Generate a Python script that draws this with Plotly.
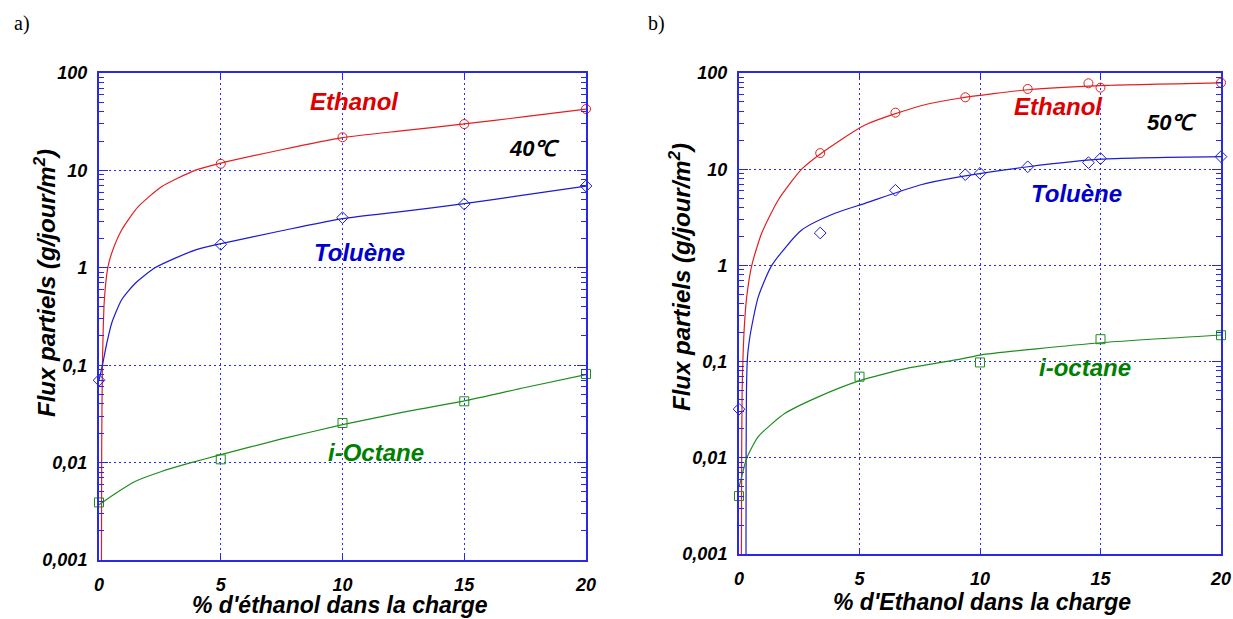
import plotly.graph_objects as go

# ---------------- Panel a) 40 °C ----------------
a_eth_x = [5, 10, 15, 20]
a_eth_y = [11.7, 21.9, 29.9, 42.7]
a_tol_x = [0, 5, 10, 15, 20]
a_tol_y = [0.07, 1.74, 3.27, 4.52, 6.92]
a_oct_x = [0, 5, 10, 15, 20]
a_oct_y = [0.0039, 0.0108, 0.0255, 0.0426, 0.0813]

# fitted curves
a_eth_fit_x = [0.10, 0.11, 0.14, 0.22, 0.36, 0.52, 0.93, 1.61, 2.57, 3.94, 4.97, 7.5, 10, 12.5, 15, 17.5, 20]
a_eth_fit_y = [0.001, 0.0135, 0.1, 0.47, 1.0, 1.41, 2.44, 4.24, 6.8, 10.0, 11.8, 16.3, 21.7, 25.6, 30.0, 35.6, 42.6]
a_tol_fit_x = [0, 0.14, 0.32, 0.52, 0.93, 1.48, 2.3, 3.94, 4.97, 7.5, 10, 12.5, 15, 17.5, 20]
a_tol_fit_y = [0.07, 0.1, 0.168, 0.27, 0.47, 0.69, 1.0, 1.52, 1.76, 2.4, 3.2, 3.8, 4.55, 5.6, 6.9]
a_oct_fit_x = [0, 0.66, 1.48, 2.57, 3.67, 4.97, 7.5, 10, 12.5, 15, 17.5, 20]
a_oct_fit_y = [0.0037, 0.0048, 0.0064, 0.0081, 0.0098, 0.012, 0.0175, 0.0245, 0.033, 0.043, 0.059, 0.08]

# ---------------- Panel b) 50 °C ----------------
b_eth_x = [3.37, 6.49, 9.39, 11.98, 14.5, 15, 20]
b_eth_y = [14.7, 38.7, 55.9, 68.2, 78.2, 70.4, 79.3]
b_tol_x = [0, 3.37, 6.49, 9.39, 10, 11.98, 14.5, 15, 20]
b_tol_y = [0.032, 2.17, 6.04, 8.77, 9.07, 10.6, 11.7, 12.9, 13.5]
b_oct_x = [0, 5, 10, 15, 20]
b_oct_y = [0.0040, 0.0697, 0.098, 0.171, 0.188]

b_eth_fit_x = [0.10, 0.11, 0.13, 0.17, 0.23, 0.32, 0.53, 0.94, 1.63, 2.6, 3.39, 5.23, 7.51, 9.2, 12, 15, 20]
b_eth_fit_y = [0.001, 0.01, 0.05, 0.12, 0.25, 0.47, 1.0, 2.16, 4.79, 10.0, 14.5, 28.8, 45.4, 55, 67, 74, 79]
b_tol_fit_x = [0.29, 0.295, 0.31, 0.35, 0.42, 0.50, 0.80, 1.36, 2.6, 3.98, 5.23, 7.51, 9.2, 12, 15, 20]
b_tol_fit_y = [0.001, 0.01, 0.05, 0.11, 0.16, 0.213, 0.47, 1.0, 2.33, 3.48, 4.42, 6.85, 8.36, 10.6, 12.7, 13.5]
b_oct_fit_x = [0, 0.04, 0.32, 0.80, 1.91, 3.29, 4.98, 6.96, 9.17, 10, 15, 20]
b_oct_fit_y = [0.005, 0.0054, 0.0099, 0.0166, 0.029, 0.043, 0.063, 0.085, 0.106, 0.117, 0.157, 0.189]

x_ticks = [0, 5, 10, 15, 20]
y_ticks = [0.001, 0.01, 0.1, 1, 10, 100]
y_ticktext = ["0,001", "0,01", "0,1", "1", "10", "100"]

RED_L, BLUE_L, GREEN_L = "#e41e1e", "#1c1cd2", "#1e8c1e"
RED_T, BLUE_T, GREEN_T = "#dd0000", "#0000cc", "#008000"
AXC = "#2a2ae6"
GRIDC = "#2a2aff"

W, H = 1233, 619
FONT = "Liberation Sans, Arial, Helvetica, sans-serif"

fig = go.Figure()


def add_panel(xa, ya, fits, pts):
    for fx, fy, col in fits:
        fig.add_trace(go.Scatter(x=fx, y=fy, mode="lines",
                                 line=dict(color=col, width=1.2, shape="spline", smoothing=0.6),
                                 xaxis=xa, yaxis=ya, showlegend=False, hoverinfo="skip"))
    for px, py, col, sym in pts:
        fig.add_trace(go.Scatter(x=px, y=py, mode="markers", cliponaxis=False,
                                 marker=dict(symbol=sym, size=9, color=col, line=dict(color=col, width=1)),
                                 xaxis=xa, yaxis=ya, showlegend=False))


add_panel("x", "y",
          [(a_eth_fit_x, a_eth_fit_y, RED_L), (a_tol_fit_x, a_tol_fit_y, BLUE_L), (a_oct_fit_x, a_oct_fit_y, GREEN_L)],
          [(a_eth_x, a_eth_y, RED_L, "circle-open"), (a_tol_x, a_tol_y, BLUE_L, "diamond-open"),
           (a_oct_x, a_oct_y, GREEN_L, "square-open")])
add_panel("x2", "y2",
          [(b_eth_fit_x, b_eth_fit_y, RED_L), (b_tol_fit_x, b_tol_fit_y, BLUE_L), (b_oct_fit_x, b_oct_fit_y, GREEN_L)],
          [(b_eth_x, b_eth_y, RED_L, "circle-open"), (b_tol_x, b_tol_y, BLUE_L, "diamond-open"),
           (b_oct_x, b_oct_y, GREEN_L, "square-open")])

minor_vals = [m * 10 ** e for e in range(-3, 2) for m in range(2, 10)]
TICKFONT = dict(family=FONT, size=18, color="black", weight="bold", style="italic")


def xaxis_style(domain, anchor):
    return dict(domain=domain, anchor=anchor, range=[0, 20], tickvals=x_ticks,
                ticktext=[str(v) for v in x_ticks], automargin=False,
                showline=True, linecolor=AXC, linewidth=2, mirror="ticks",
                ticks="inside", ticklen=5, tickcolor=AXC, tickwidth=1,
                showgrid=True, gridcolor=GRIDC, griddash="2px,3px", gridwidth=1,
                zeroline=False, ticklabelstandoff=7, tickfont=TICKFONT)


def yaxis_style(domain, anchor):
    return dict(domain=domain, anchor=anchor, type="log", range=[-3, 2],
                tickvals=y_ticks, ticktext=y_ticktext, automargin=False,
                showline=True, linecolor=AXC, linewidth=2, mirror="ticks",
                ticks="inside", ticklen=9, tickcolor=AXC, tickwidth=1,
                minor=dict(tickvals=minor_vals, ticks="inside", ticklen=5, tickcolor=AXC, tickwidth=1, showgrid=False),
                showgrid=True, gridcolor=GRIDC, griddash="2px,3px", gridwidth=1,
                zeroline=False, ticklabelstandoff=6, tickfont=TICKFONT)


def px_x(p):
    return p / W


def px_y(p):
    return 1 - p / H


fig.update_layout(
    width=W, height=H,
    margin=dict(l=0, r=0, t=0, b=0, autoexpand=False),
    paper_bgcolor="white", plot_bgcolor="white",
    xaxis=xaxis_style([px_x(99), px_x(586)], "y"),
    yaxis=yaxis_style([px_y(560), px_y(73)], "x"),
    xaxis2=xaxis_style([px_x(739), px_x(1221)], "y2"),
    yaxis2=yaxis_style([px_y(554), px_y(73)], "x2"),
)

ann = []


def label(text, cx, cy, color, size=22, angle=0, family=FONT, bold=True):
    t = f"<b><i>{text}</i></b>" if bold else text
    ann.append(dict(text=t, x=px_x(cx), y=px_y(cy), xref="paper", yref="paper",
                    xanchor="center", yanchor="middle", showarrow=False, textangle=angle,
                    font=dict(family=family, size=size, color=color)))


# panel letters
label("a)", 22, 24, "black", size=20, family="Liberation Serif, Times New Roman, serif", bold=False)
label("b)", 656, 24, "black", size=20, family="Liberation Serif, Times New Roman, serif", bold=False)

# series labels panel a
label("Ethanol", 354, 101, RED_T, size=24)
label("40℃", 534, 148, "black")
label("Toluène", 359, 252, BLUE_T, size=24)
label("i-Octane", 376, 453, GREEN_T, size=24)

# series labels panel b
label("Ethanol", 1058, 106, RED_T, size=24)
label("50℃", 1172, 122, "black")
label("Toluène", 1076, 194, BLUE_T, size=24)
label("i-octane", 1085, 367, GREEN_T, size=24)

# axis titles
label("Flux partiels (g/jour/m<sup>2</sup>)", 45, 283, "black", size=24, angle=-90)
label("Flux partiels (g/jour/m<sup>2</sup>)", 680, 277, "black", size=24, angle=-90)
label("% d'éthanol dans la charge", 340, 605, "black", size=23)
label("% d'Ethanol dans la charge", 982, 602, "black", size=23)

fig.update_layout(annotations=ann)

# remove the default 8px page margin so the figure fills the window exactly
fig.write_html("out.html", config={"displayModeBar": False},
               post_script="document.body.style.margin='0';document.body.style.overflow='hidden';")
